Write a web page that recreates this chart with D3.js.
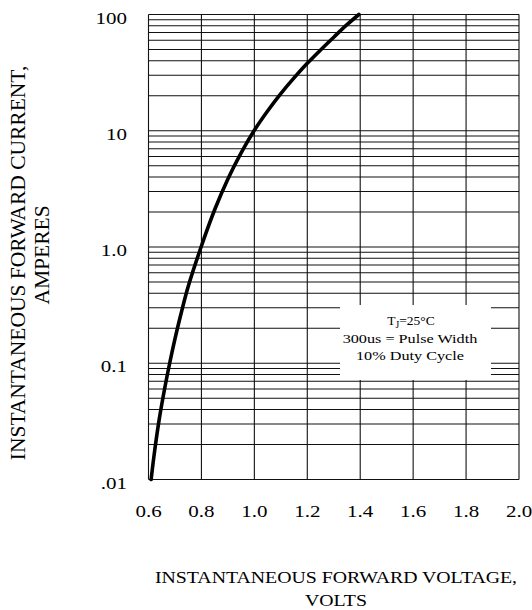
<!DOCTYPE html>
<html>
<head>
<meta charset="utf-8">
<title>Forward characteristic</title>
<style>
  body { margin: 0; background: #fff; }
  text { font-family: "Liberation Serif", "Times New Roman", serif; fill: #000; }
</style>
</head>
<body>
<script src="https://cdn.jsdelivr.net/npm/d3@7/dist/d3.min.js"></script>
<script>
// curve: forward voltage (V) vs current (A)
var volts   = [0.61, 0.62, 0.64, 0.66, 0.68, 0.70, 0.72, 0.75, 0.80, 0.85, 0.90, 0.95, 1.00, 1.05, 1.10, 1.15, 1.20, 1.25, 1.30, 1.35, 1.395];
var amperes = [0.01, 0.0155, 0.0324, 0.0589, 0.1, 0.162, 0.251, 0.457, 1.02, 2.09, 3.85, 6.46, 10.1, 14.8, 20.9, 28.5, 38.0, 49.5, 63.8, 81.7, 100];

var xTicks = [0.6, 0.8, 1.0, 1.2, 1.4, 1.6, 1.8, 2.0];
var xTickLabels = ["0.6", "0.8", "1.0", "1.2", "1.4", "1.6", "1.8", "2.0"];
var yTicks = [0.01, 0.1, 1, 10, 100];
var yTickLabels = [".01", "0.1", "1.0", "10", "100"];

var noteLines = ["300us = Pulse Width", "10% Duty Cycle"];

// the scanned original is a bit wider than tall, stretch text to match
var stretch = 1.2;
function widen(sel) {
    sel.each(function() {
        var w = this.getComputedTextLength();
        d3.select(this).attr("textLength", w * stretch).attr("lengthAdjust", "spacingAndGlyphs");
    });
}

var svg = d3.select("body").append("svg")
    .attr("width", 532)
    .attr("height", 610);

var x = d3.scaleLinear().domain([0.6, 2.0]).range([148.5, 519]);
var y = d3.scaleLog().domain([0.01, 100]).range([479.5, 14.5]);

// log grid values 1..9 in each decade
var yGrid = [];
[0.01, 0.1, 1, 10].forEach(function(dec) {
    for (var k = 1; k < 10; k++) yGrid.push(dec * k);
});
yGrid.push(100);

// horizontal grid
svg.selectAll("line.hgrid")
    .data(yGrid)
    .enter()
    .append("line")
    .attr("class", "hgrid")
    .attr("x1", x(0.6))
    .attr("x2", x(2.0))
    .attr("y1", function(d) { return y(d); })
    .attr("y2", function(d) { return y(d); })
    .attr("stroke", "#111")
    .attr("stroke-width", 1.1);

// vertical grid
svg.selectAll("line.vgrid")
    .data(xTicks)
    .enter()
    .append("line")
    .attr("class", "vgrid")
    .attr("x1", function(d) { return x(d); })
    .attr("x2", function(d) { return x(d); })
    .attr("y1", y(100))
    .attr("y2", y(0.01))
    .attr("stroke", "#111")
    .attr("stroke-width", 1.1);

// white box behind the note
svg.append("rect")
    .attr("x", 340)
    .attr("y", 305)
    .attr("width", 151)
    .attr("height", 75)
    .attr("fill", "#fff");

// the curve
var pts = volts.map(function(v, i) { return [v, amperes[i]]; });
var line = d3.line()
    .x(function(d) { return x(d[0]); })
    .y(function(d) { return y(d[1]); })
    .curve(d3.curveCatmullRom);

svg.append("path")
    .datum(pts)
    .attr("d", line)
    .attr("fill", "none")
    .attr("stroke", "#000")
    .attr("stroke-width", 3.6)
    .attr("stroke-linecap", "round");

// tick labels
svg.selectAll("text.xlab")
    .data(xTicks)
    .enter()
    .append("text")
    .attr("class", "xlab")
    .attr("x", function(d) { return x(d); })
    .attr("y", 517)
    .attr("text-anchor", "middle")
    .attr("font-size", 17.5)
    .text(function(d, i) { return xTickLabels[i]; })
    .call(widen);

svg.selectAll("text.ylab")
    .data(yTicks)
    .enter()
    .append("text")
    .attr("class", "ylab")
    .attr("x", 127)
    .attr("y", function(d) { return y(d) + 9; })
    .attr("text-anchor", "end")
    .attr("font-size", 17.5)
    .text(function(d, i) { return yTickLabels[i]; })
    .call(widen);

// note
var note = svg.append("text")
    .attr("x", 411)
    .attr("y", 325)
    .attr("text-anchor", "middle")
    .attr("font-size", 13.5);
note.append("tspan").text("T");
note.append("tspan").attr("font-size", 9.5).attr("dy", 3).text("J");
note.append("tspan").attr("dy", -3).text("=25°C");

svg.selectAll("text.note")
    .data(noteLines)
    .enter()
    .append("text")
    .attr("class", "note")
    .attr("x", 410)
    .attr("y", function(d, i) { return 343 + i * 17; })
    .attr("text-anchor", "middle")
    .attr("font-size", 13.5)
    .text(function(d) { return d; })
    .call(widen);

// axis titles
svg.append("text")
    .attr("x", 336)
    .attr("y", 583)
    .attr("text-anchor", "middle")
    .attr("font-size", 16.5)
    .text("INSTANTANEOUS FORWARD VOLTAGE,")
    .call(widen);
svg.append("text")
    .attr("x", 336)
    .attr("y", 606)
    .attr("text-anchor", "middle")
    .attr("font-size", 16.5)
    .text("VOLTS")
    .call(widen);

svg.append("text")
    .attr("transform", "translate(25,263) rotate(-90)")
    .attr("text-anchor", "middle")
    .attr("font-size", 21.5)
    .text("INSTANTANEOUS FORWARD CURRENT,");
svg.append("text")
    .attr("transform", "translate(49,255) rotate(-90)")
    .attr("text-anchor", "middle")
    .attr("font-size", 21.5)
    .text("AMPERES");
</script>
</body>
</html>
